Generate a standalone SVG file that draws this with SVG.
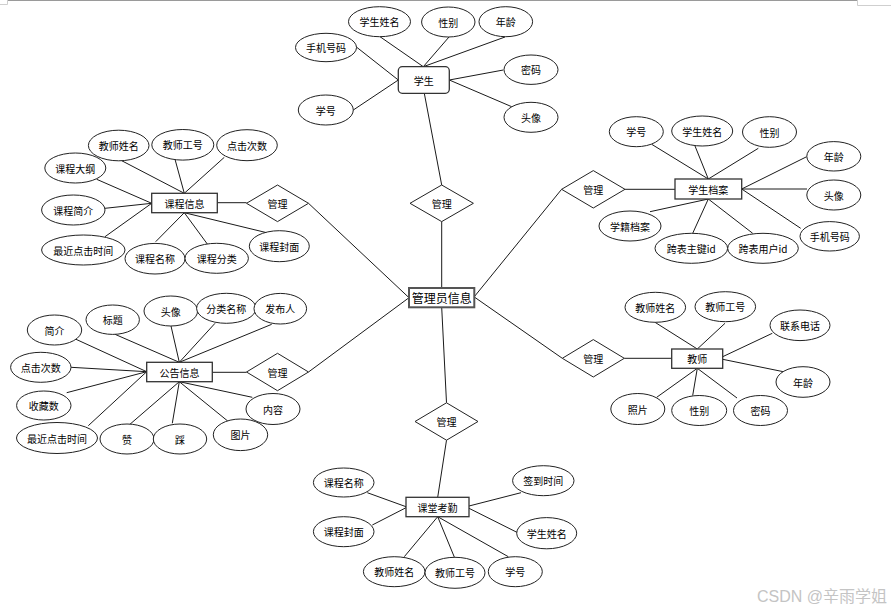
<svg xmlns="http://www.w3.org/2000/svg" width="891" height="611" viewBox="0 0 891 611">
<style>
.bg{fill:#ffffff}
.frame{stroke:#9a9a9a;stroke-width:1;fill:none}
.frame2{stroke:#cfcfcf;stroke-width:1;fill:none}
.conn line{stroke:#1a1a1a;stroke-width:1}
.ent{fill:#ffffff;stroke:#333333;stroke-width:1.3}
.main{fill:#ffffff;stroke:#555555;stroke-width:2}
.attr{fill:#ffffff;stroke:#222222;stroke-width:1}
.rel{fill:#ffffff;stroke:#222222;stroke-width:1}
text{font-family:"Noto Sans CJK SC","Noto Sans",sans-serif;font-size:10px;fill:#000000;text-anchor:middle;dominant-baseline:central}
.big{font-size:12px}
.wm{font-family:"Liberation Sans","Noto Sans CJK SC",sans-serif;font-size:16px;fill:#c4c4c4;text-anchor:end;dominant-baseline:alphabetic}
</style>
<rect class="bg" x="0" y="0" width="891" height="611"/>
<path class="frame" d="M7.5,0.5 H857.5"/>
<path class="frame2" d="M7.5,0 V4.5 H0 M857.5,0 V5.5 H891"/>

<g id="connectors" class="conn">
<!-- 学生 -->
<line x1="380" y1="36.7" x2="423.3" y2="66.7"/>
<line x1="449" y1="37" x2="423.3" y2="66.7"/>
<line x1="505" y1="37" x2="423.3" y2="66.7"/>
<line x1="356" y1="46.7" x2="398.3" y2="80"/>
<line x1="353.3" y1="110" x2="398.3" y2="80"/>
<line x1="449.3" y1="80" x2="503.3" y2="70"/>
<line x1="449.3" y1="80" x2="511.7" y2="106.7"/>
<line x1="424.3" y1="93.3" x2="441.7" y2="185"/>
<!-- center -->
<line x1="441.7" y1="221.6" x2="441.7" y2="288"/>
<line x1="409" y1="297.7" x2="308.5" y2="203.3"/>
<line x1="409" y1="297.7" x2="308.5" y2="372"/>
<line x1="441.7" y1="307.3" x2="446.5" y2="402.8"/>
<line x1="474.3" y1="296.7" x2="561.6" y2="189.3"/>
<line x1="474.3" y1="297" x2="562.3" y2="358.3"/>
<!-- 学生档案 -->
<line x1="625" y1="189.3" x2="675" y2="189.3"/>
<line x1="651.7" y1="144.3" x2="708.3" y2="179"/>
<line x1="695" y1="146" x2="708.3" y2="179"/>
<line x1="758.3" y1="148.3" x2="708.3" y2="179"/>
<line x1="806.7" y1="156.7" x2="741.7" y2="189"/>
<line x1="741.7" y1="189" x2="807" y2="189"/>
<line x1="741.7" y1="189" x2="800.7" y2="228.3"/>
<line x1="708.3" y1="199" x2="650" y2="211.7"/>
<line x1="708.3" y1="199" x2="692.7" y2="233.3"/>
<line x1="708.3" y1="199" x2="752.7" y2="233.3"/>
<!-- 教师 -->
<line x1="624.3" y1="358.3" x2="671.7" y2="358.3"/>
<line x1="655" y1="322.3" x2="697.3" y2="349"/>
<line x1="725" y1="323.3" x2="697.3" y2="349"/>
<line x1="722.7" y1="356.7" x2="772.3" y2="333.3"/>
<line x1="722.7" y1="359.3" x2="783.3" y2="371.7"/>
<line x1="697.3" y1="368.3" x2="656.7" y2="397.3"/>
<line x1="697.3" y1="368.3" x2="692.7" y2="395.5"/>
<line x1="697.3" y1="368.3" x2="737" y2="398"/>
<!-- 课堂考勤 -->
<line x1="446.5" y1="440.2" x2="437.7" y2="497.3"/>
<line x1="367.3" y1="492.7" x2="406" y2="506.7"/>
<line x1="372.3" y1="525" x2="406" y2="507.7"/>
<line x1="469" y1="506" x2="521" y2="492.7"/>
<line x1="469" y1="508.3" x2="517.7" y2="532.7"/>
<line x1="437.7" y1="516.7" x2="404.3" y2="556.7"/>
<line x1="437.7" y1="516.7" x2="454.3" y2="557"/>
<line x1="437.7" y1="516.7" x2="508.3" y2="556.7"/>
<!-- 课程信息 -->
<line x1="217.3" y1="202.7" x2="246.5" y2="202.7"/>
<line x1="121.7" y1="160.7" x2="184.3" y2="193.3"/>
<line x1="175" y1="159.3" x2="184.3" y2="193.3"/>
<line x1="224.3" y1="157.3" x2="184.3" y2="193.3"/>
<line x1="96.7" y1="179.3" x2="151.7" y2="203.3"/>
<line x1="105" y1="208.3" x2="151.7" y2="203.3"/>
<line x1="105" y1="236.7" x2="151.7" y2="203.3"/>
<line x1="155.7" y1="241.7" x2="184.3" y2="212.7"/>
<line x1="207.3" y1="244" x2="184.3" y2="212.7"/>
<line x1="266.7" y1="232.7" x2="184.3" y2="212.7"/>
<!-- 公告信息 -->
<line x1="212.3" y1="372.3" x2="246.5" y2="372.3"/>
<line x1="76" y1="339.3" x2="146.7" y2="371.7"/>
<line x1="115" y1="334.3" x2="179.3" y2="362.3"/>
<line x1="171" y1="326" x2="179.3" y2="362.3"/>
<line x1="215" y1="323.3" x2="179.3" y2="362.3"/>
<line x1="271.7" y1="324.3" x2="179.3" y2="362.3"/>
<line x1="71" y1="367.3" x2="146.7" y2="371.7"/>
<line x1="66.7" y1="392.7" x2="146.7" y2="371.7"/>
<line x1="88.3" y1="425.7" x2="146.7" y2="371.7"/>
<line x1="128.3" y1="425.7" x2="179.3" y2="381.7"/>
<line x1="172.3" y1="423.3" x2="179.3" y2="381.7"/>
<line x1="227.7" y1="421" x2="179.3" y2="381.7"/>
<line x1="252.3" y1="397.3" x2="179.3" y2="381.7"/>
</g>

<!-- Student -->
<g id="student"><rect class="ent" x="398.3" y="66.7" width="51" height="26.6" rx="4"/><text x="423.8" y="80">学生</text></g>
<g id="s-name"><ellipse class="attr" cx="379.5" cy="21.7" rx="31" ry="15"/><text x="379.5" y="21.7">学生姓名</text></g>
<g id="s-gender"><ellipse class="attr" cx="448.3" cy="22" rx="26.7" ry="15"/><text x="448.3" y="22">性别</text></g>
<g id="s-age"><ellipse class="attr" cx="505.8" cy="21.7" rx="26.8" ry="15"/><text x="505.8" y="21.7">年龄</text></g>
<g id="s-phone"><ellipse class="attr" cx="326" cy="47.5" rx="30.5" ry="14.2"/><text x="326" y="47.5">手机号码</text></g>
<g id="s-pwd"><ellipse class="attr" cx="531" cy="69.7" rx="27" ry="14.7"/><text x="531" y="69.7">密码</text></g>
<g id="s-no"><ellipse class="attr" cx="325.8" cy="110" rx="27.5" ry="15"/><text x="325.8" y="110">学号</text></g>
<g id="s-avatar"><ellipse class="attr" cx="531" cy="117.3" rx="27" ry="15"/><text x="531" y="117.3">头像</text></g>
<g id="rel-top"><polygon class="rel" points="441.7,185 473.4,203.3 441.7,221.6 410,203.3"/><text x="441.7" y="203.3">管理</text></g>

<!-- Center -->
<g id="admin"><rect class="main" x="409" y="288" width="65.3" height="19.3"/><text class="big" x="441.7" y="297.7">管理员信息</text></g>

<!-- 学生档案 -->
<g id="rel-archive"><polygon class="rel" points="593.3,170.6 625,189.3 593.3,208 561.6,189.3"/><text x="593.3" y="189.3">管理</text></g>
<g id="archive"><rect class="ent" x="675" y="179" width="66.7" height="20"/><text x="708.3" y="189">学生档案</text></g>
<g id="a-no"><ellipse class="attr" cx="636.3" cy="131.7" rx="27" ry="15"/><text x="636.3" y="131.7">学号</text></g>
<g id="a-name"><ellipse class="attr" cx="702.2" cy="131" rx="30.5" ry="15"/><text x="702.2" y="131">学生姓名</text></g>
<g id="a-gender"><ellipse class="attr" cx="769.5" cy="132" rx="27" ry="15.3"/><text x="769.5" y="132">性别</text></g>
<g id="a-age"><ellipse class="attr" cx="833.8" cy="156.3" rx="27" ry="14.7"/><text x="833.8" y="156.3">年龄</text></g>
<g id="a-avatar"><ellipse class="attr" cx="833.8" cy="195" rx="27" ry="15"/><text x="833.8" y="195">头像</text></g>
<g id="a-phone"><ellipse class="attr" cx="829.7" cy="236.3" rx="29.7" ry="14.7"/><text x="829.7" y="236.3">手机号码</text></g>
<g id="a-record"><ellipse class="attr" cx="630" cy="226" rx="31" ry="15"/><text x="630" y="226">学籍档案</text></g>
<g id="a-pk"><ellipse class="attr" cx="691.3" cy="248.3" rx="36.3" ry="15"/><text x="691.3" y="248.3">跨表主键id</text></g>
<g id="a-uid"><ellipse class="attr" cx="763" cy="248.3" rx="35.3" ry="15"/><text x="763" y="248.3">跨表用户id</text></g>

<!-- 教师 -->
<g id="rel-teacher"><polygon class="rel" points="593.3,339.6 624.3,358.3 593.3,377 562.3,358.3"/><text x="593.3" y="358.3">管理</text></g>
<g id="teacher"><rect class="ent" x="671.7" y="349" width="51" height="19.3"/><text x="697.2" y="358.7">教师</text></g>
<g id="t-name"><ellipse class="attr" cx="655.3" cy="307.3" rx="30.3" ry="15"/><text x="655.3" y="307.3">教师姓名</text></g>
<g id="t-no"><ellipse class="attr" cx="725.3" cy="306.7" rx="30.3" ry="15"/><text x="725.3" y="306.7">教师工号</text></g>
<g id="t-tel"><ellipse class="attr" cx="800" cy="325.3" rx="30" ry="15.3"/><text x="800" y="325.3">联系电话</text></g>
<g id="t-age"><ellipse class="attr" cx="803" cy="382" rx="27" ry="15.3"/><text x="803" y="382">年龄</text></g>
<g id="t-photo"><ellipse class="attr" cx="637.8" cy="409" rx="27" ry="15.5"/><text x="637.8" y="409">照片</text></g>
<g id="t-gender"><ellipse class="attr" cx="699.2" cy="410.5" rx="27.5" ry="15"/><text x="699.2" y="410.5">性别</text></g>
<g id="t-pwd"><ellipse class="attr" cx="760.5" cy="410.5" rx="27" ry="15"/><text x="760.5" y="410.5">密码</text></g>

<!-- 课堂考勤 -->
<g id="rel-bottom"><polygon class="rel" points="446.5,402.8 478,421.5 446.5,440.2 415,421.5"/><text x="446.5" y="421.5">管理</text></g>
<g id="attendance"><rect class="ent" x="406" y="497.3" width="63" height="19.4"/><text x="437.5" y="507">课堂考勤</text></g>
<g id="c-cname"><ellipse class="attr" cx="343.7" cy="482.5" rx="30.3" ry="14.5"/><text x="343.7" y="482.5">课程名称</text></g>
<g id="c-cover"><ellipse class="attr" cx="343.7" cy="531.7" rx="30.3" ry="15"/><text x="343.7" y="531.7">课程封面</text></g>
<g id="c-time"><ellipse class="attr" cx="543.3" cy="480.7" rx="30.7" ry="15"/><text x="543.3" y="480.7">签到时间</text></g>
<g id="c-sname"><ellipse class="attr" cx="546.7" cy="533.2" rx="30" ry="15.6"/><text x="546.7" y="533.2">学生姓名</text></g>
<g id="c-tname"><ellipse class="attr" cx="394.2" cy="571.7" rx="30.8" ry="15"/><text x="394.2" y="571.7">教师姓名</text></g>
<g id="c-tno"><ellipse class="attr" cx="455" cy="572.8" rx="30" ry="15.5"/><text x="455" y="572.8">教师工号</text></g>
<g id="c-sno"><ellipse class="attr" cx="515.3" cy="571.7" rx="27" ry="15"/><text x="515.3" y="571.7">学号</text></g>

<!-- 课程信息 -->
<g id="rel-course"><polygon class="rel" points="277.5,185 308.5,203.3 277.5,221.6 246.5,203.3"/><text x="277.5" y="203.3">管理</text></g>
<g id="course"><rect class="ent" x="151.7" y="193.3" width="65.6" height="19.4"/><text x="184.5" y="203">课程信息</text></g>
<g id="k-tname"><ellipse class="attr" cx="118.7" cy="145.5" rx="30.3" ry="15.3"/><text x="118.7" y="145.5">教师姓名</text></g>
<g id="k-tno"><ellipse class="attr" cx="182.8" cy="144.8" rx="31" ry="15.3"/><text x="182.8" y="144.8">教师工号</text></g>
<g id="k-clicks"><ellipse class="attr" cx="247" cy="145.2" rx="30.3" ry="15.5"/><text x="247" y="145.2">点击次数</text></g>
<g id="k-outline"><ellipse class="attr" cx="75.3" cy="168" rx="30.5" ry="15"/><text x="75.3" y="168">课程大纲</text></g>
<g id="k-intro"><ellipse class="attr" cx="73.3" cy="210" rx="31.7" ry="15"/><text x="73.3" y="210">课程简介</text></g>
<g id="k-recent"><ellipse class="attr" cx="83.3" cy="250" rx="41.7" ry="15"/><text x="83.3" y="250">最近点击时间</text></g>
<g id="k-name"><ellipse class="attr" cx="155" cy="258.7" rx="30" ry="15.3"/><text x="155" y="258.7">课程名称</text></g>
<g id="k-cat"><ellipse class="attr" cx="216.7" cy="258.3" rx="31.7" ry="15"/><text x="216.7" y="258.3">课程分类</text></g>
<g id="k-cover"><ellipse class="attr" cx="279.3" cy="246.2" rx="30" ry="15.5"/><text x="279.3" y="246.2">课程封面</text></g>

<!-- 公告信息 -->
<g id="rel-notice"><polygon class="rel" points="277.5,353.3 308.5,372 277.5,390.7 246.5,372"/><text x="277.5" y="372">管理</text></g>
<g id="notice"><rect class="ent" x="146.7" y="362.3" width="65.6" height="19.4"/><text x="179.5" y="372">公告信息</text></g>
<g id="n-intro"><ellipse class="attr" cx="54.5" cy="330" rx="27.2" ry="15"/><text x="54.5" y="330">简介</text></g>
<g id="n-title"><ellipse class="attr" cx="112.7" cy="319.7" rx="26.7" ry="14.7"/><text x="112.7" y="319.7">标题</text></g>
<g id="n-avatar"><ellipse class="attr" cx="170.8" cy="311" rx="26.8" ry="15"/><text x="170.8" y="311">头像</text></g>
<g id="n-cat"><ellipse class="attr" cx="226.3" cy="308.3" rx="29.7" ry="15"/><text x="226.3" y="308.3">分类名称</text></g>
<g id="n-pub"><ellipse class="attr" cx="280.3" cy="308.7" rx="26.3" ry="15.3"/><text x="280.3" y="308.7">发布人</text></g>
<g id="n-clicks"><ellipse class="attr" cx="40.8" cy="367.3" rx="30.2" ry="15"/><text x="40.8" y="367.3">点击次数</text></g>
<g id="n-fav"><ellipse class="attr" cx="43.8" cy="405.5" rx="27.2" ry="14.5"/><text x="43.8" y="405.5">收藏数</text></g>
<g id="n-recent"><ellipse class="attr" cx="57" cy="438" rx="40.5" ry="15.5"/><text x="57" y="438">最近点击时间</text></g>
<g id="n-like"><ellipse class="attr" cx="127" cy="439" rx="27" ry="15"/><text x="127" y="439">赞</text></g>
<g id="n-dislike"><ellipse class="attr" cx="180" cy="439" rx="26.7" ry="15"/><text x="180" y="439">踩</text></g>
<g id="n-img"><ellipse class="attr" cx="240.5" cy="434.8" rx="27.2" ry="15.8"/><text x="240.5" y="434.8">图片</text></g>
<g id="n-content"><ellipse class="attr" cx="273" cy="409" rx="27" ry="15.5"/><text x="273" y="409">内容</text></g>

<text class="wm" x="887" y="602">CSDN @辛雨学姐</text>
</svg>
